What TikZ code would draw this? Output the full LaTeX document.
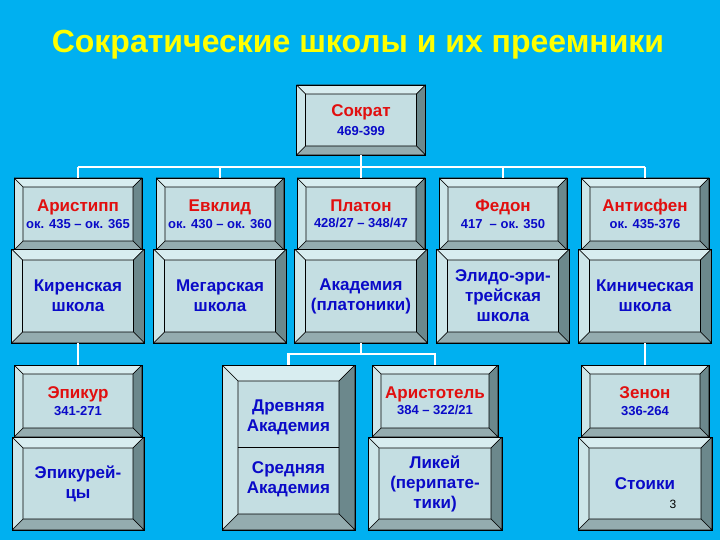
\documentclass[tikz,border=0pt]{standalone}
\usepackage{fontspec}
\setmainfont{Liberation Sans}
\definecolor{bgblue}{RGB}{0,176,240}
\definecolor{bvface}{RGB}{196,222,226}
\definecolor{bvtop}{RGB}{216,237,240}
\definecolor{bvleft}{RGB}{205,230,233}
\definecolor{bvright}{RGB}{108,136,140}
\definecolor{bvbottom}{RGB}{148,172,175}
\definecolor{namered}{RGB}{225,15,15}
\definecolor{textblue}{RGB}{10,10,200}
\definecolor{titleyellow}{RGB}{255,255,0}
\newcommand\yrfont{\fontsize{13}{15}\selectfont\color{textblue}}
\tikzset{
  bvdepth/.store in=\bvd, bvdepth=9,
  bvbox/.style={rectangle,inner sep=0pt,draw=black,line width=0.6pt,fill=bvface,
    align=center,text=textblue,font=\bfseries\fontsize{17}{20}\selectfont,
    path picture={
      \coordinate (pa) at (path picture bounding box.north west);
      \coordinate (pb) at (path picture bounding box.north east);
      \coordinate (pc) at (path picture bounding box.south east);
      \coordinate (pd) at (path picture bounding box.south west);
      \coordinate (qa) at ([shift={(\bvd pt,-\bvd pt)}]pa);
      \coordinate (qb) at ([shift={(-\bvd pt,-\bvd pt)}]pb);
      \coordinate (qc) at ([shift={(-\bvd pt,\bvd pt)}]pc);
      \coordinate (qd) at ([shift={(\bvd pt,\bvd pt)}]pd);
      \filldraw[draw=black,fill=bvtop] (pa) -- (pb) -- (qb) -- (qa) -- cycle;
      \filldraw[draw=black,fill=bvright] (pb) -- (pc) -- (qc) -- (qb) -- cycle;
      \filldraw[draw=black,fill=bvbottom] (pc) -- (pd) -- (qd) -- (qc) -- cycle;
      \filldraw[draw=black,fill=bvleft] (pd) -- (pa) -- (qa) -- (qd) -- cycle;
    }},
}
\begin{document}
\begin{tikzpicture}[x=1pt,y=-1pt,
  link/.style={draw=white,line width=2.5pt},
  namebox/.style={bvbox,minimum width=128pt,minimum height=72pt,text=namered},
  schoolbox/.style={bvbox,bvdepth=11,minimum width=133pt,minimum height=94pt},
  txt/.style={align=center,text=textblue,font=\bfseries\fontsize{17}{20}\selectfont}]
\fill[bgblue] (0,0) rectangle (720,540);
\useasboundingbox (0,0) rectangle (720,540);
\node[anchor=base,text=titleyellow,font=\bfseries\fontsize{32}{36}\selectfont] (title) at (358,53) {Сократические школы и их преемники};

% teacher
\node[namebox,minimum width=129pt,minimum height=70pt] (sokrat) at (361,120) {Сократ\\[-1.5pt]{\yrfont 469-399}};

% pupils and their schools
\foreach \who/\x/\nm/\yrs/\sch/\school in {
  aristipp/78/Аристипп/{ок. 435 – ок. 365}/kiren/{Киренская\\школа},
  evklid/220/Евклид/{ок. 430 – ок. 360}/megar/{Мегарская\\школа},
  platon/361/Платон/{428/27 – 348/47}/akad/{Академия\\(платоники)},
  fedon/503/Федон/{417 \ – ок. 350}/elid/{Элидо-эри-\\трейская\\школа},
  antisfen/645/Антисфен/{ок. 435-376}/kinik/{Киническая\\школа}}
{
  \node[namebox] (\who) at (\x,214) {\nm\\[-3.5pt]{\yrfont\yrs}};
  \node[schoolbox] (\sch) at (\x,296) {\school};
}

% successors
\node[namebox] (epikur) at (78,401) {Эпикур\\[-3.5pt]{\yrfont 341-271}};
\node[schoolbox,minimum width=132pt,minimum height=93pt] (epikureans) at (78,483.5) {Эпикурей-\\цы};
\node[schoolbox,bvdepth=16,minimum width=133pt,minimum height=165pt] (akadbox) at (288.5,447.5) {};
\draw[line width=0.6pt] ([xshift=16pt]akadbox.west) -- ([xshift=-16pt]akadbox.east);
\node[txt] (drevn) at (288.5,417) {Древняя\\Академия};
\node[txt] (sredn) at (288.5,479) {Средняя\\Академия};
\node[namebox,minimum width=126pt] (aristotel) at (435,401) {Аристотель\\[-3.5pt]{\yrfont 384 – 322/21}};
\node[schoolbox,minimum width=134pt,minimum height=93pt] (likei) at (435,483.5) {Ликей\\(перипате-\\тики)};
\node[namebox] (zenon) at (645,401) {Зенон\\[-3.5pt]{\yrfont 336-264}};
\node[schoolbox,minimum width=134pt,minimum height=93pt] (stoiki) at (645,483.5) {Стоики};
\node[font=\fontsize{12}{14}\selectfont] (pnum) at (673,504) {3};

% connectors
\coordinate (bus) at (361,167);
\draw[link] (sokrat.south) -- (bus);
\draw[link] (bus -| aristipp.north) -- (bus -| antisfen.north);
\foreach \who in {aristipp,evklid,platon,fedon,antisfen}
  \draw[link] (bus -| \who.north) -- (\who.north);
\draw[link] (kiren.south) -- (epikur.north);
\coordinate (fork) at (361,354);
\draw[link] (akad.south) -- (fork);
\draw[link] (akadbox.north) |- (fork) -| (aristotel.north);
\draw[link] (kinik.south) -- (zenon.north);
\end{tikzpicture}
\end{document}
